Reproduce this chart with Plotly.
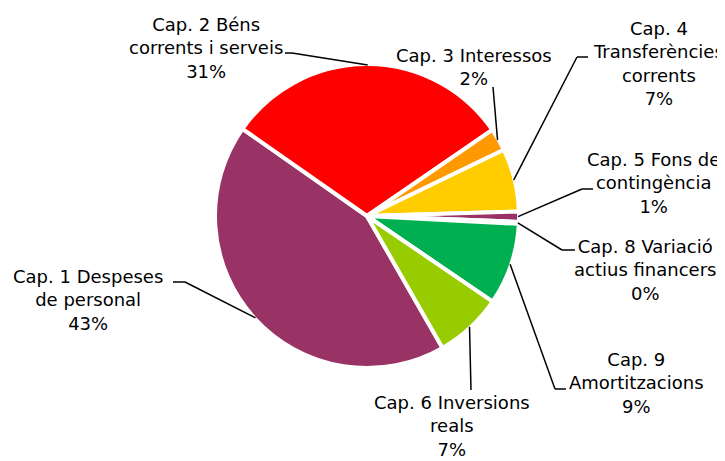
import math
import plotly.graph_objects as go

# ---- data ----
labels = [
    "Cap. 1 Despeses<br>de personal",
    "Cap. 2 Béns<br>corrents i serveis",
    "Cap. 3 Interessos",
    "Cap. 4<br>Transferències<br>corrents",
    "Cap. 5 Fons de<br>contingència",
    "Cap. 8 Variació<br>actius financers",
    "Cap. 9<br>Amortitzacions",
    "Cap. 6 Inversions<br>reals",
]
values = [43.0, 30.7, 2.4, 6.7, 1.1, 0.2, 8.7, 7.2]
colors = ["#993366", "#FF0000", "#FF9900", "#FFCC00", "#993366", "#7F7F7F", "#00B050", "#99CC00"]

# ---- layout (page pixels) ----
PAGE_W, PAGE_H = 725, 461
OFF = 8  # default body margin of the written page
W, H = PAGE_W - OFF, PAGE_H - OFF
CX, CY, R = 367, 216, 152
ROT = 150.2

# label block centres and leader-line points on the text side (page pixels)
label_pos = [
    (88, 300), (206, 48), (474, 67), (658, 64),
    (653, 183), (645, 270), (636, 383), (452, 426),
]
leader_pts = [
    [(173, 282), (185, 282)],
    [(285, 53), (292, 53)],
    [(493, 87)],
    [(588, 57), (577, 57)],
    [(593, 189), (582, 189)],
    [(575, 250), (562, 250)],
    [(566, 389), (555, 389)],
    [(471, 390)],
]

def px(x):
    return (x - OFF) / W

def py(y):
    return 1 - (y - OFF) / H

fig = go.Figure(go.Pie(
    labels=labels,
    values=values,
    sort=False,
    direction="clockwise",
    rotation=ROT,
    textinfo="none",
    hoverinfo="label+percent",
    marker=dict(colors=colors, line=dict(color="white", width=4)),
    domain=dict(x=[px(CX - R), px(CX + R)], y=[py(CY + R), py(CY - R)]),
    showlegend=False,
))

total = sum(values)
cum = 0.0
annotations = []
shapes = []
for lab, v, (tx, ty), pts in zip(labels, values, label_pos, leader_pts):
    mid = ROT + (cum + v / 2) / total * 360
    cum += v
    a = math.radians(mid)
    ex = CX + (R - 1) * math.sin(a)
    ey = CY - (R - 1) * math.cos(a)
    path_pts = pts + [(ex, ey)]
    for (x0, y0), (x1, y1) in zip(path_pts[:-1], path_pts[1:]):
        shapes.append(dict(type="line", xref="paper", yref="paper",
                           x0=px(x0), y0=py(y0), x1=px(x1), y1=py(y1),
                           line=dict(color="black", width=1.5)))
    pct = round(v / total * 100)
    annotations.append(dict(
        x=px(tx), y=py(ty), xref="paper", yref="paper",
        text=f"{lab}<br>{pct}%", showarrow=False,
        xanchor="center", yanchor="middle", align="center",
        font=dict(family="DejaVu Sans", size=18, color="black"),
    ))

fig.update_layout(
    width=W, height=H,
    margin=dict(l=0, r=0, t=0, b=0),
    paper_bgcolor="white",
    plot_bgcolor="white",
    annotations=annotations,
    shapes=shapes,
)

fig.write_html("out.html")
